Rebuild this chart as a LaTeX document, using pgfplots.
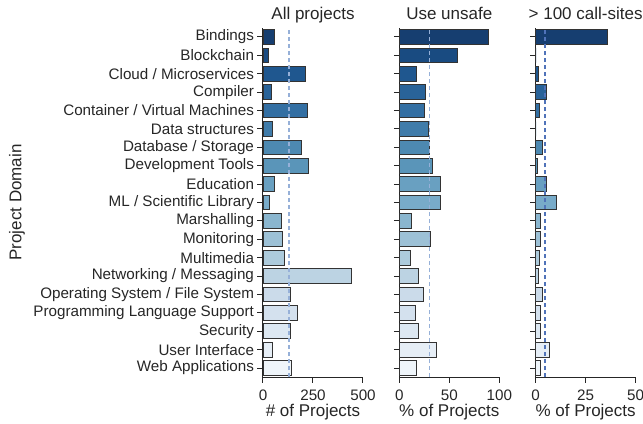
\documentclass[border=0pt]{standalone}
\usepackage{pgfplots}
\pgfplotsset{compat=1.18}
\usepackage{pgfplotstable}
\usepackage{fontspec}
\setmainfont{Liberation Sans}
\newcommand{\fs}{\fontsize{15.2bp}{18bp}\selectfont}
\newcommand{\fl}{\fontsize{17bp}{20bp}\selectfont}

\definecolor{S0}{RGB}{248,251,254}
\definecolor{S1}{RGB}{225,235,244}
\definecolor{S2}{RGB}{203,219,234}
\definecolor{S3}{RGB}{166,199,217}
\definecolor{S4}{RGB}{120,171,201}
\definecolor{S5}{RGB}{83,143,181}
\definecolor{S6}{RGB}{51,111,163}
\definecolor{S7}{RGB}{26,81,138}
\definecolor{S8}{RGB}{20,50,95}
\colorlet{c0}{S8!60!S7}
\colorlet{c1}{S8!20!S7}
\colorlet{c2}{S7!80!S6}
\colorlet{c3}{S7!40!S6}
\colorlet{c4}{S6}
\colorlet{c5}{S6!60!S5}
\colorlet{c6}{S6!20!S5}
\colorlet{c7}{S5!80!S4}
\colorlet{c8}{S5!40!S4}
\colorlet{c9}{S4}
\colorlet{c10}{S4!60!S3}
\colorlet{c11}{S4!20!S3}
\colorlet{c12}{S3!80!S2}
\colorlet{c13}{S3!40!S2}
\colorlet{c14}{S2}
\colorlet{c15}{S2!60!S1}
\colorlet{c16}{S2!20!S1}
\colorlet{c17}{S1!80!S0}
\colorlet{c18}{S1!40!S0}
\definecolor{axisgray}{RGB}{38,38,38}
\definecolor{edgegray}{RGB}{51,51,51}
\definecolor{meanlight}{RGB}{150,176,216}
\definecolor{meandark}{RGB}{80,115,185}

% idx 0 = Bindings (top) ... 18 = Web Applications (bottom)
\pgfplotstableread{
idx all unsafe many
0  57  89.4 35.8
1  27  57.7 0
2  210 17.4 1.5
3  40  25.7 5.3
4  220 25.4 2.0
5  47  29.0 0
6  192 29.7 3.3
7  227 33.0 1.0
8  57  41.0 5.5
9  30  41.4 10.5
10 93  12.0 2.3
11 98  31.4 2.2
12 107 11.4 1.8
13 440 19.0 1.6
14 137 24.0 3.2
15 170 16.4 2.3
16 137 19.0 2.3
17 47  37.0 6.7
18 143 17.0 2.3
}\data

\pgfplotsset{
  myaxis/.style={
    scale only axis, width=100bp, height=349.4bp,
    ymin=-0.5, ymax=18.5,
    ytick={0,...,18},
    xmin=0,
    axis x line*=bottom, axis y line*=left,
    axis line style={draw=axisgray, line width=1bp, -},
    tick style={draw=axisgray, line width=1bp},
    tick align=outside, major tick length=5.5bp,
    ticklabel style={font=\fs, text=axisgray},
    xticklabel style={yshift=-4bp},
    label style={font=\fl, text=axisgray},
    title style={font=\fl, text=axisgray, at={(axis description cs:0.5,1)}, anchor=base, yshift=2.5bp},
    xlabel style={at={(axis description cs:0.5,0)}, anchor=base, yshift=-39.5bp},
    /pgf/number format/assume math mode=true,
    /pgf/number format/1000 sep={},
    clip=false,
  },
  bars/.style={xbar, bar shift=0pt, bar width=0.8, draw=edgegray, line width=0.9bp},
}

\begin{document}
\begin{tikzpicture}
\path[use as bounding box] (-263bp,-46.8bp) rectangle (380bp,377.2bp);

\begin{axis}[myaxis, at={(0,0)}, anchor=south west,
  xmax=500, xtick={0,250,500},
  title={All projects}, xlabel={\# of Projects},
  ylabel={Project Domain},
  ylabel style={at={(axis description cs:-2.46,0.5)}, anchor=center, rotate=0},
  yticklabels={Web Applications, User Interface, Security, Programming Language Support, Operating System / File System, Networking / Messaging, Multimedia, Monitoring, Marshalling, ML / Scientific Library, Education, Development Tools, Database / Storage, Data structures, Container / Virtual Machines, Compiler, Cloud / Microservices, Blockchain, Bindings},
]
\pgfplotsinvokeforeach{0,...,18}{
  \addplot[bars, fill=c#1, restrict expr to domain={\coordindex}{#1:#1}]
    table[x=all, y expr=18-\thisrow{idx}] {\data};
}
\addplot[meanlight, dashed, line width=1.2bp, dash pattern=on 4.5bp off 2.5bp] coordinates {(130,-0.5) (130,18.5)};
\end{axis}

\begin{axis}[myaxis, at={(136.3bp,0)}, anchor=south west,
  xmax=100, xtick={0,50,100},
  title={Use unsafe}, xlabel={\% of Projects},
  yticklabels={},
]
\pgfplotsinvokeforeach{0,...,18}{
  \addplot[bars, fill=c#1, restrict expr to domain={\coordindex}{#1:#1}]
    table[x=unsafe, y expr=18-\thisrow{idx}] {\data};
}
\addplot[meanlight, dashed, line width=1.2bp, dash pattern=on 4.5bp off 2.5bp] coordinates {(30.4,-0.5) (30.4,18.5)};
\end{axis}

\begin{axis}[myaxis, at={(272.6bp,0)}, anchor=south west,
  xmax=50, xtick={0,25,50},
  title={> 100 call-sites}, xlabel={\% of Projects},
  yticklabels={},
]
\pgfplotsinvokeforeach{0,...,18}{
  \addplot[bars, fill=c#1, restrict expr to domain={\coordindex}{#1:#1}]
    table[x=many, y expr=18-\thisrow{idx}] {\data};
}
\addplot[meandark, dashed, line width=1.2bp, dash pattern=on 4.5bp off 2.5bp] coordinates {(4.7,-0.5) (4.7,18.5)};
\end{axis}
\end{tikzpicture}
\end{document}
